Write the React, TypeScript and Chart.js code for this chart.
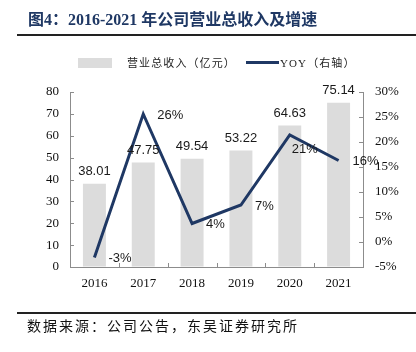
import React, { useEffect, useRef } from "react";
import { Chart, registerables } from "chart.js";

Chart.register(...registerables);

const years = ["2016", "2017", "2018", "2019", "2020", "2021"];
const revenue = [38.01, 47.75, 49.54, 53.22, 64.63, 75.14];
const yoy = [-3.1, 25.6, 3.7, 7.4, 21.4, 16.3];
const yoyLabels = ["-3%", "26%", "4%", "7%", "21%", "16%"];

const NAVY = "#1f3864";
const AXIS = "#8c8c8c";
const SERIF = '"Liberation Serif", "Times New Roman", serif';
const SANS = '"Liberation Sans", Arial, sans-serif';
const CJK = '"Liberation Serif", "Noto Sans CJK SC", serif';

const labelPlugin = {
  id: "valueLabels",
  afterDatasetsDraw(chart: any) {
    const ctx = chart.ctx;
    ctx.save();
    ctx.font = "13px " + SANS;
    ctx.fillStyle = "#1a1a1a";
    const bars = chart.getDatasetMeta(1).data;
    ctx.textAlign = "center";
    ctx.textBaseline = "alphabetic";
    bars.forEach((b: any, i: number) => {
      ctx.fillText(revenue[i].toFixed(2), b.x, b.y - 9);
    });
    const pts = chart.getDatasetMeta(0).data;
    ctx.textAlign = "left";
    ctx.textBaseline = "middle";
    pts.forEach((p: any, i: number) => {
      const dx = i === 4 ? 2 : 14;
      const dy = i === 4 ? 14 : 1;
      ctx.fillText(yoyLabels[i], p.x + dx, p.y + dy);
    });
    ctx.restore();
  },
};

const innerTicks = {
  id: "innerTicks",
  afterDraw(chart: any) {
    const ctx = chart.ctx;
    const { left, right, bottom } = chart.chartArea;
    const yl = chart.scales.y;
    const yr = chart.scales.y1;
    ctx.save();
    ctx.strokeStyle = AXIS;
    ctx.lineWidth = 1;
    ctx.beginPath();
    yl.ticks.forEach((_t: any, i: number) => {
      const py = Math.round(yl.getPixelForTick(i)) + 0.5;
      ctx.moveTo(left, py);
      ctx.lineTo(left + 4, py);
    });
    yr.ticks.forEach((_t: any, i: number) => {
      const py = Math.round(yr.getPixelForTick(i)) + 0.5;
      ctx.moveTo(right - 4, py);
      ctx.lineTo(right, py);
    });
    const n = years.length;
    const step = (right - left) / n;
    for (let i = 1; i < n; i++) {
      const px = Math.round(left + step * i) + 0.5;
      ctx.moveTo(px, bottom);
      ctx.lineTo(px, bottom - 4);
    }
    ctx.stroke();
    ctx.restore();
  },
};

function ChartCanvas() {
  const ref = useRef<HTMLCanvasElement | null>(null);
  useEffect(() => {
    if (!ref.current) return;
    const chart = new Chart(ref.current, {
      type: "bar",
      data: {
        labels: years,
        datasets: [
          {
            type: "line",
            label: "YOY（右轴）",
            data: yoy,
            yAxisID: "y1",
            borderColor: NAVY,
            backgroundColor: NAVY,
            borderWidth: 3,
            pointRadius: 0,
            borderJoinStyle: "miter",
            tension: 0,
            order: 0,
          } as any,
          {
            type: "bar",
            label: "营业总收入（亿元）",
            data: revenue,
            yAxisID: "y",
            backgroundColor: "#dcdcdc",
            borderWidth: 0,
            categoryPercentage: 1,
            barPercentage: 0.47,
            order: 1,
          },
        ],
      },
      options: {
        responsive: false,
        animation: false,
        layout: { padding: { left: 30, right: 13, top: 92, bottom: 55 } },
        plugins: {
          legend: { display: false },
          tooltip: { enabled: false },
        },
        scales: {
          x: {
            grid: { display: true, drawOnChartArea: false, drawTicks: false },
            border: { display: true, color: AXIS, width: 1 },
            ticks: { color: "#111", font: { family: SERIF, size: 13 }, padding: 9 },
            afterFit: (s: any) => {
              s.height = 30;
              s.paddingLeft = 0;
              s.paddingRight = 0;
            },
          },
          y: {
            position: "left",
            min: 0,
            max: 80,
            grid: { display: true, drawOnChartArea: false, drawTicks: false },
            border: { display: true, color: AXIS, width: 1 },
            ticks: { stepSize: 10, color: "#111", font: { family: SERIF, size: 13 }, padding: 11 },
            afterFit: (s: any) => {
              s.width = 40;
              s.paddingTop = 0;
              s.paddingBottom = 0;
            },
          },
          y1: {
            position: "right",
            min: -5,
            max: 30,
            grid: { display: true, drawOnChartArea: false, drawTicks: false },
            border: { display: true, color: AXIS, width: 1 },
            ticks: {
              stepSize: 5,
              color: "#111",
              font: { family: SERIF, size: 13 },
              padding: 12,
              callback: (v: any) => v + "%",
            },
            afterFit: (s: any) => {
              s.width = 40;
              s.paddingTop = 0;
              s.paddingBottom = 0;
            },
          },
        },
      },
      plugins: [labelPlugin, innerTicks],
    });
    return () => chart.destroy();
  }, []);
  return (
    <canvas
      ref={ref}
      width={416}
      height={352}
      style={{ position: "absolute", left: 0, top: 0, width: 416, height: 352 }}
    />
  );
}

export default function App() {
  return (
    <div
      style={{
        position: "fixed",
        left: 0,
        top: 0,
        width: 416,
        height: 352,
        background: "#fff",
        overflow: "hidden",
      }}
    >
      <ChartCanvas />
      <div
        style={{
          position: "absolute",
          left: 28,
          top: 10,
          fontFamily: CJK,
          fontWeight: "bold",
          fontSize: 16,
          lineHeight: "20px",
          color: NAVY,
          whiteSpace: "nowrap",
        }}
      >
        图4：2016-2021 年公司营业总收入及增速
      </div>
      <div style={{ position: "absolute", left: 17, top: 34, width: 399, height: 2, background: "#222" }} />
      <div style={{ position: "absolute", left: 78, top: 58, width: 34, height: 10, background: "#dcdcdc" }} />
      <div
        style={{
          position: "absolute",
          left: 127,
          top: 55,
          fontFamily: CJK,
          fontSize: 11,
          lineHeight: "16px",
          letterSpacing: 1.1,
          color: "#222",
          whiteSpace: "nowrap",
        }}
      >
        营业总收入（亿元）
      </div>
      <div style={{ position: "absolute", left: 246, top: 61, width: 33, height: 3, background: NAVY }} />
      <div
        style={{
          position: "absolute",
          left: 280,
          top: 55,
          fontFamily: CJK,
          fontSize: 11,
          lineHeight: "16px",
          letterSpacing: 1.1,
          color: "#222",
          whiteSpace: "nowrap",
        }}
      >
        YOY（右轴）
      </div>
      <div style={{ position: "absolute", left: 17, top: 312, width: 399, height: 2, background: "#222" }} />
      <div
        style={{
          position: "absolute",
          left: 27,
          top: 318,
          fontFamily: CJK,
          fontSize: 14,
          lineHeight: "18px",
          letterSpacing: 2,
          color: "#111",
          whiteSpace: "nowrap",
        }}
      >
        数据来源：公司公告，东吴证券研究所
      </div>
    </div>
  );
}
